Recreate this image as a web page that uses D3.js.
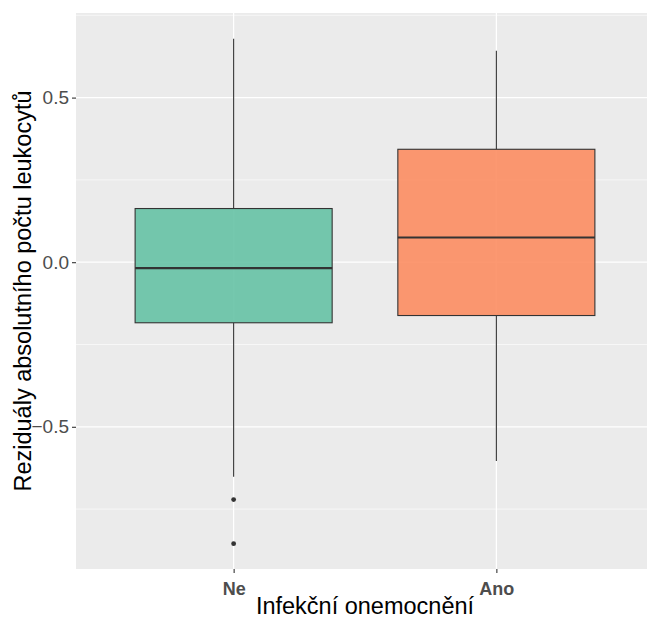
<!DOCTYPE html>
<html>
<head>
<meta charset="utf-8">
<script src="https://cdnjs.cloudflare.com/ajax/libs/d3/7.8.5/d3.min.js"></script>
<style>
  html, body { margin: 0; padding: 0; background: #ffffff; }
  svg { display: block; }
</style>
</head>
<body>
<div id="chart"></div>
<script>
// ---- data ----
const categories = ["Ne", "Ano"];
const whiskerLow  = [-0.652, -0.604];
const q1          = [-0.184, -0.162];
const median      = [-0.018,  0.075];
const q3          = [ 0.163,  0.343];
const whiskerHigh = [ 0.679,  0.642];
const outliers    = [[-0.721, -0.855], []];
const fills       = ["#66c2a5", "#fc8d62"];
const yTicks      = [-0.5, 0.0, 0.5];
const yMinor      = [-0.75, -0.25, 0.25, 0.75];
const yDomain     = [-0.932, 0.757];
const xTitle = "Infekční onemocnění";
const yTitle = "Reziduály absolutního počtu leukocytů";

// ---- layout ----
const W = 647, H = 619;
const panel = { left: 76, right: 654, top: 13, bottom: 569 };
const FONT = "'Liberation Sans', Arial, sans-serif";

const svg = d3.select("#chart").append("svg")
  .attr("width", W).attr("height", H)
  .style("font-family", FONT);

const x = d3.scalePoint().domain(categories)
  .range([panel.left, panel.right]).padding(0.6);
const y = d3.scaleLinear().domain(yDomain).range([panel.bottom, panel.top]);
const boxW = x.step() * 0.75;

// panel background
svg.append("rect")
  .attr("x", panel.left).attr("y", panel.top)
  .attr("width", panel.right - panel.left).attr("height", panel.bottom - panel.top)
  .attr("fill", "#ebebeb");

const grid = svg.append("g");
grid.selectAll("line.minor").data(yMinor).enter().append("line")
  .attr("x1", panel.left).attr("x2", panel.right)
  .attr("y1", d => y(d)).attr("y2", d => y(d))
  .attr("stroke", "#ffffff").attr("stroke-width", 0.6);
grid.selectAll("line.majory").data(yTicks).enter().append("line")
  .attr("x1", panel.left).attr("x2", panel.right)
  .attr("y1", d => y(d)).attr("y2", d => y(d))
  .attr("stroke", "#ffffff").attr("stroke-width", 1.2);
grid.selectAll("line.majorx").data(categories).enter().append("line")
  .attr("y1", panel.top).attr("y2", panel.bottom)
  .attr("x1", d => x(d)).attr("x2", d => x(d))
  .attr("stroke", "#ffffff").attr("stroke-width", 1.2);

// boxes
const data = categories.map((c, i) => ({
  c, lo: whiskerLow[i], q1: q1[i], med: median[i], q3: q3[i], hi: whiskerHigh[i],
  out: outliers[i], fill: fills[i]
}));

const g = svg.append("g");
const box = g.selectAll("g.box").data(data).enter().append("g");
box.append("line")
  .attr("x1", d => x(d.c)).attr("x2", d => x(d.c))
  .attr("y1", d => y(d.hi)).attr("y2", d => y(d.q3))
  .attr("stroke", "#333333").attr("stroke-width", 1.1);
box.append("line")
  .attr("x1", d => x(d.c)).attr("x2", d => x(d.c))
  .attr("y1", d => y(d.q1)).attr("y2", d => y(d.lo))
  .attr("stroke", "#333333").attr("stroke-width", 1.1);
box.append("rect")
  .attr("x", d => x(d.c) - boxW / 2).attr("width", boxW)
  .attr("y", d => y(d.q3)).attr("height", d => y(d.q1) - y(d.q3))
  .attr("fill", d => d.fill).attr("fill-opacity", 0.9)
  .attr("stroke", "#333333").attr("stroke-width", 1.1);
box.append("line")
  .attr("x1", d => x(d.c) - boxW / 2).attr("x2", d => x(d.c) + boxW / 2)
  .attr("y1", d => y(d.med)).attr("y2", d => y(d.med))
  .attr("stroke", "#333333").attr("stroke-width", 2.2);
box.selectAll("circle").data(d => d.out.map(v => ({ c: d.c, v }))).enter().append("circle")
  .attr("cx", d => x(d.c)).attr("cy", d => y(d.v)).attr("r", 2.4)
  .attr("fill", "#333333");

// y axis
const yAxis = svg.append("g").attr("transform", `translate(${panel.left},0)`)
  .call(d3.axisLeft(y).tickValues(yTicks).tickFormat(d3.format(".1f")).tickSize(4).tickPadding(3));
yAxis.select(".domain").remove();
yAxis.selectAll(".tick line").attr("stroke", "#333333").attr("stroke-width", 1.1);
yAxis.selectAll(".tick text").attr("fill", "#4d4d4d")
  .style("font-size", "19px").style("font-family", FONT);

// x axis
const xAxis = svg.append("g").attr("transform", `translate(0,${panel.bottom})`)
  .call(d3.axisBottom(x).tickSize(4).tickPadding(9));
xAxis.select(".domain").remove();
xAxis.selectAll(".tick line").attr("stroke", "#333333").attr("stroke-width", 1.1);
xAxis.selectAll(".tick text").attr("fill", "#4d4d4d")
  .style("font-size", "18px").style("font-weight", "bold")
  .style("font-family", FONT);

// titles
svg.append("text")
  .attr("x", (panel.left + panel.right) / 2).attr("y", 614)
  .attr("text-anchor", "middle").attr("fill", "#000000")
  .style("font-size", "23.5px").text(xTitle);
svg.append("text")
  .attr("transform", `translate(31,${(panel.top + panel.bottom) / 2}) rotate(-90)`)
  .attr("text-anchor", "middle").attr("fill", "#000000")
  .style("font-size", "23.5px").text(yTitle);
</script>
</body>
</html>
